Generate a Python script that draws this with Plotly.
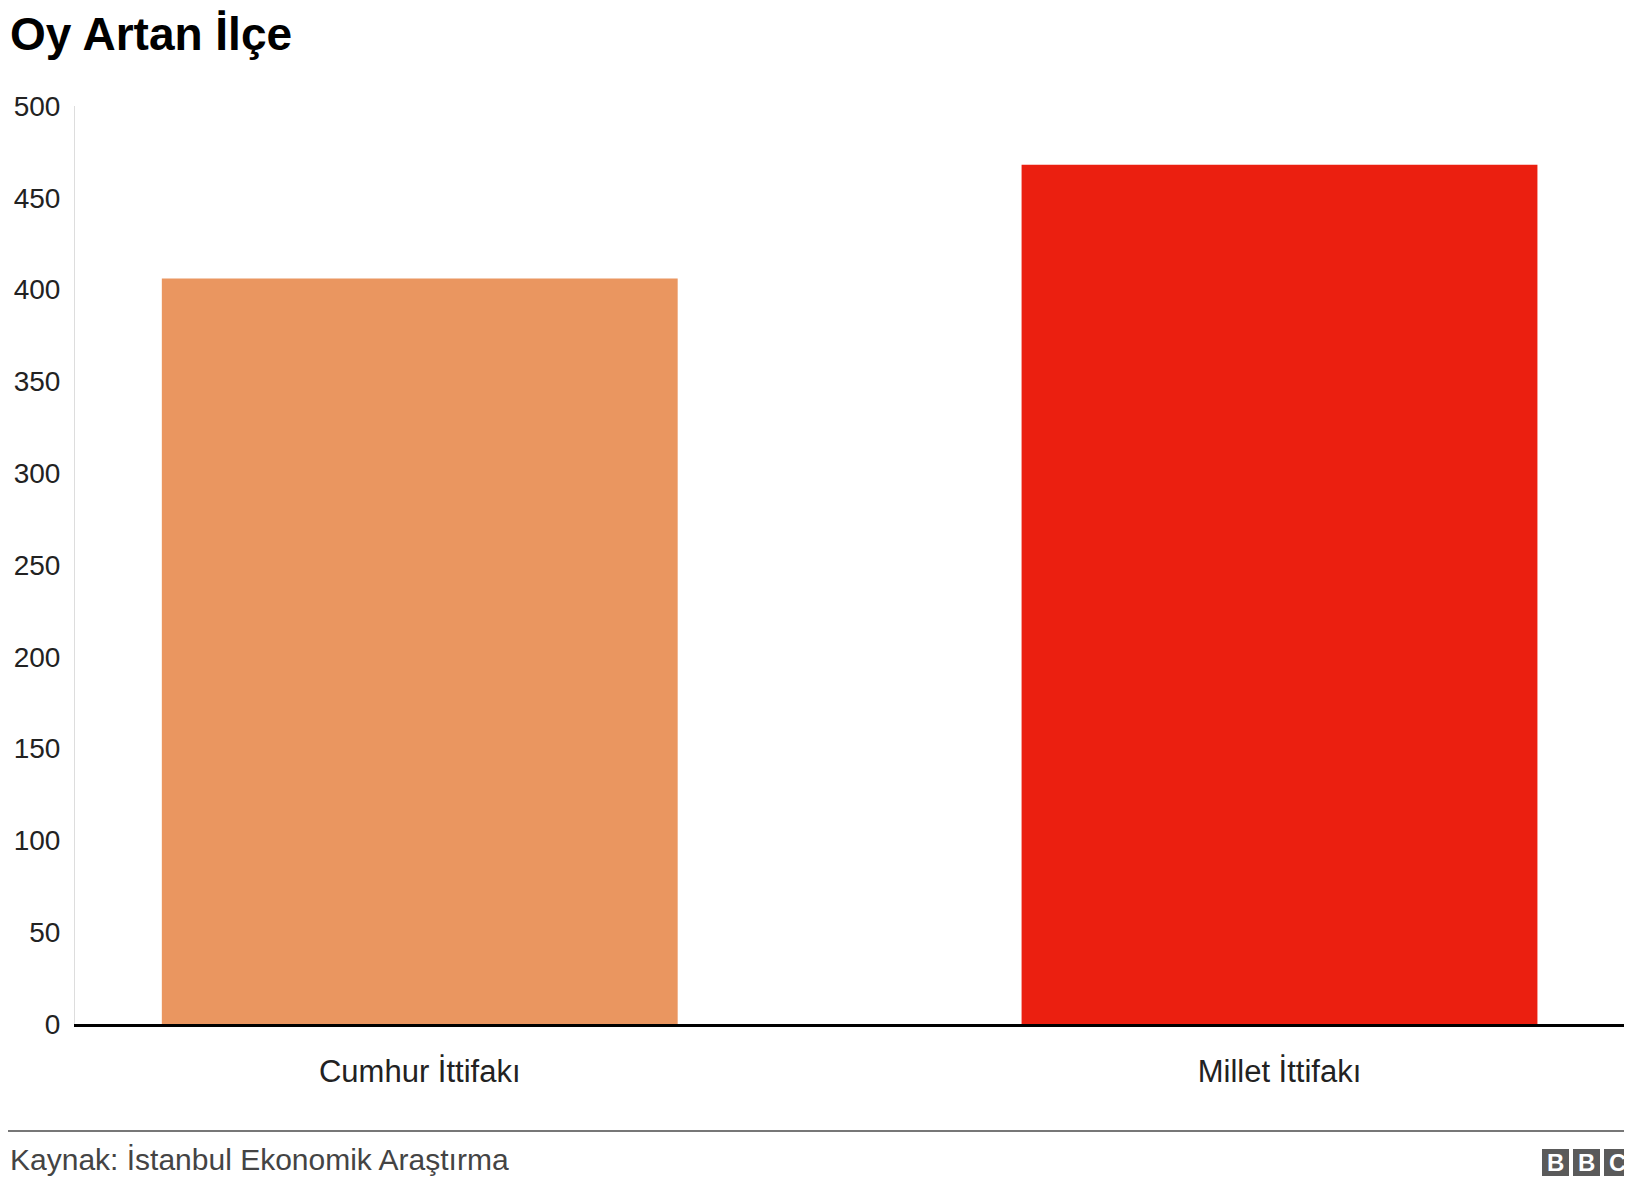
import plotly.graph_objects as go

categories = ["Cumhur İttifakı", "Millet İttifakı"]
values = [406, 468]
colors = ["#EA9660", "#EB1F10"]
yticks = [0, 50, 100, 150, 200, 250, 300, 350, 400, 450, 500]

W, H = 1624, 1178
L, T, B = 67, 98, 162
PW, PH = W - L, H - T - B
F = "Liberation Sans, Arial, sans-serif"

def px(x):
    return (x - L) / PW

def py(y):
    return (H - B - y) / PH

xpos = list(range(len(categories)))
fig = go.Figure(go.Bar(x=xpos, y=values, marker_color=colors, marker_line_width=0, width=0.6))
fig.update_layout(
    width=W, height=H, margin=dict(l=L, r=0, t=T, b=B, autoexpand=False),
    plot_bgcolor="white", paper_bgcolor="white", showlegend=False,
    font=dict(family=F, color="#222222", size=31),
    xaxis=dict(range=[-0.401, 1.41], tickvals=xpos, ticktext=categories, showgrid=False, zeroline=False,
               showline=True, linecolor="black", linewidth=3, automargin=False,
               tickfont=dict(size=31, color="#222222"), ticklabelstandoff=18, ticks=""),
    yaxis=dict(range=[0, 500], tickvals=yticks, showgrid=False, zeroline=False, automargin=False,
               showline=True, linecolor="#dddddd", linewidth=1, ticks="",
               ticklabelstandoff=8, tickfont=dict(size=28, color="#222222")),
)
fig.add_annotation(text="<b>Oy Artan İlçe</b>", xref="paper", yref="paper", x=px(0), y=py(26),
                   xanchor="left", yanchor="middle", showarrow=False, font=dict(size=46, color="#000000", family=F))
fig.add_annotation(text="Kaynak: İstanbul Ekonomik Araştırma", xref="paper", yref="paper", x=px(0), y=py(1151),
                   xanchor="left", yanchor="middle", showarrow=False, font=dict(size=30, color="#444444", family=F))
fig.add_shape(type="line", xref="paper", yref="paper", x0=px(0), x1=1, y0=py(1123), y1=py(1123),
              line=dict(color="#777777", width=2))
for i, ch in enumerate("BBC"):
    x0 = 1534 + i * 31
    fig.add_shape(type="rect", xref="paper", yref="paper", x0=px(x0), x1=px(x0 + 27),
                  y0=py(1168), y1=py(1141), fillcolor="#5a5a5a", line_width=0, layer="below")
    fig.add_annotation(text="<b>" + ch + "</b>", xref="paper", yref="paper", x=px(x0 + 13.5), y=py(1154.5),
                       xanchor="center", yanchor="middle", showarrow=False,
                       font=dict(size=24, color="white", family=F))
fig.write_html("out.html")
